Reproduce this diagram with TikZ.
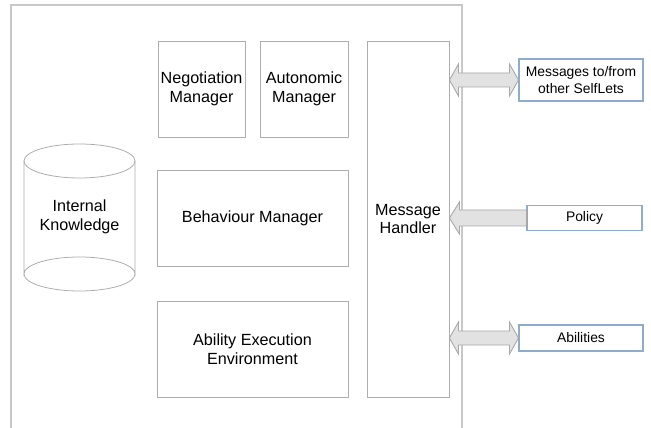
\documentclass[tikz,border=0pt]{standalone}
\usepackage{fontspec}
\setmainfont{Liberation Sans}
\usetikzlibrary{calc}

\definecolor{framegray}{HTML}{C8C8C8}
\definecolor{boxgray}{HTML}{ADADAD}
\definecolor{boxblue}{HTML}{8EADCC}
\definecolor{arrowfill}{HTML}{E2E2E2}
\definecolor{arrowline}{HTML}{A8A8A8}

\begin{document}
\begin{tikzpicture}[x=0.02cm, y=-0.02cm,
    part/.style={draw=boxgray, line width=0.5pt, fill=white, inner sep=0pt,
      align=center, font=\fontsize{9.2}{10.6}\selectfont},
    ext/.style={draw=boxblue, line width=0.6pt, fill=white, inner sep=0pt,
      align=center, font=\fontsize{7.9}{9.6}\selectfont},
    fat/.style={draw=arrowline, fill=arrowfill, line width=0.5pt, line join=miter}]
    \useasboundingbox (0,0) rectangle (651,428);

    % SelfLet frame, open at the bottom
    \draw[framegray, line width=0.9pt] (11,440) -- (11,5) -- (462,5) -- (462,440);

    % knowledge store
    \draw[boxgray, line width=0.45pt, fill=white] (24,161) -- (24,274) arc[start angle=180, end angle=360, x radius=55.5, y radius=17] -- (135,161);
    \draw[boxgray, line width=0.45pt] (24,274) arc[start angle=180, end angle=0, x radius=55.5, y radius=17];
    \draw[boxgray, line width=0.45pt] (79.5,161) ellipse[x radius=55.5, y radius=17];
    \node[font=\fontsize{9.2}{10.6}\selectfont, align=center] (ik) at (79.5,217) {Internal\\Knowledge};

    % inner parts
    \node[part, minimum width=1.74cm, minimum height=1.92cm] (nm) at (201.5,89) {Negotiation\\Manager};
    \node[part, minimum width=1.76cm, minimum height=1.92cm] (am) at (304,89) {Autonomic\\Manager};
    \node[part, minimum width=3.82cm, minimum height=1.92cm] (bm) at (252.5,218) {Behaviour Manager};
    \node[part, minimum width=3.82cm, minimum height=1.92cm] (ae) at (252.5,349) {Ability Execution\\Environment};
    \node[part, minimum width=1.64cm, minimum height=7.12cm] (mh) at (408,219) {Message\\Handler};

    % outside world
    \node[ext, minimum width=2.48cm, minimum height=0.84cm] (msg) at (581,80) {Messages to/from\\other SelfLets};
    \node[ext, minimum width=2.30cm, minimum height=0.50cm] (pol) at (584.5,218) {Policy};
    \node[ext, minimum width=2.48cm, minimum height=0.52cm] (abl) at (581,338) {Abilities};

    % block arrows
    \foreach \dst in {msg,abl}{
      \coordinate (a) at (mh.east |- \dst.west);
      \coordinate (b) at (\dst.west);
      \draw[fat] (a) -- ($(a)+(9,-16)$) -- ($(a)+(9,-7)$) -- ($(b)+(-9,-7)$) -- ($(b)+(-9,-16)$)
        -- (b) -- ($(b)+(-9,16)$) -- ($(b)+(-9,7)$) -- ($(a)+(9,7)$) -- ($(a)+(9,16)$) -- cycle;
    }
    \coordinate (a) at (mh.east |- pol.west);
    \draw[fat] (a) -- ($(a)+(10,-16)$) -- ($(a)+(10,-8)$) -- ($(pol.west)+(0,-8)$)
      -- ($(pol.west)+(0,8)$) -- ($(a)+(10,8)$) -- ($(a)+(10,16)$) -- cycle;
  \end{tikzpicture}
\end{document}
